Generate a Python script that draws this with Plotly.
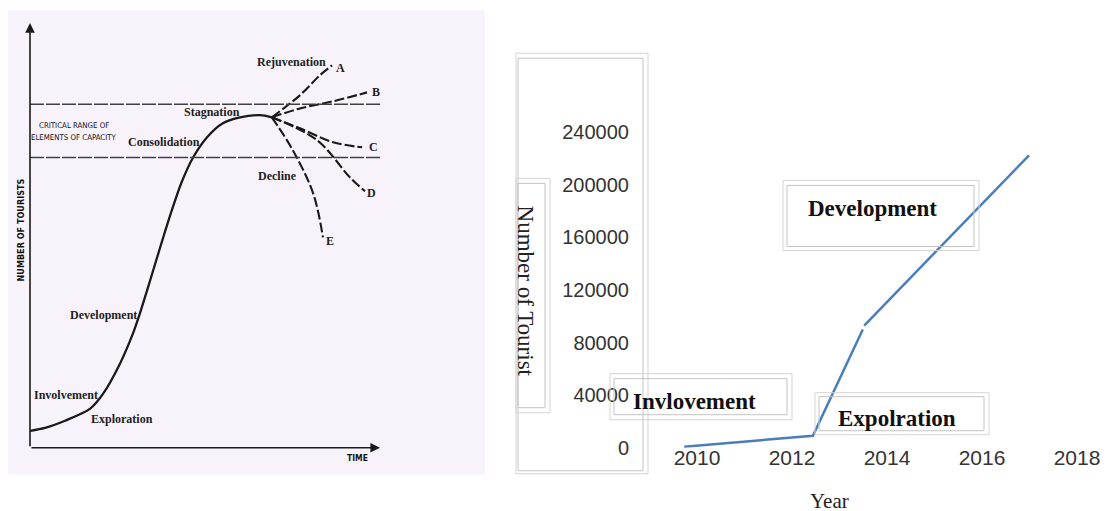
import plotly.graph_objects as go

# The page keeps the browser's default 8px body margin; the photographed page is
# squeezed vertically by 511/523, so reference pixels are mapped accordingly.
REF_W, REF_H = 1111, 511
OX, OY = 8, 8
SY = 523 / 511
FW = REF_W - 2 * OX
FH = 523 - 2 * OY

# ---------------- Left panel data (Butler life-cycle sketch, arbitrary units 0-100) ----------------
time_main = [0, 4.3, 10.0, 17.1, 20.9, 25.7, 29.4, 31.4, 33.7, 36.3, 38.0, 40.6, 43.4, 46.6, 50.6, 55.1, 60.0, 65.7, 69.1]
tourists_main = [4.0, 4.7, 6.4, 9.2, 12.8, 19.9, 27.0, 31.8, 37.9, 45.0, 49.6, 56.4, 63.0, 68.7, 73.5, 76.8, 78.2, 78.7, 78.2]

branch_A_t = [69.1, 77.1, 82.9, 86.3]
branch_A_n = [78.2, 83.4, 88.2, 90.5]
branch_B_t = [69.1, 77.1, 86.6, 96.3]
branch_B_n = [78.2, 80.3, 82.0, 84.1]
branch_C_t = [69.1, 77.1, 86.6, 94.9]
branch_C_n = [78.2, 75.6, 72.3, 71.1]
branch_D_t = [69.1, 82.0, 91.4, 95.7]
branch_D_n = [78.2, 72.8, 64.0, 60.7]
branch_E_t = [69.1, 75.1, 80.9, 83.7]
branch_E_n = [78.2, 70.4, 60.2, 49.8]

capacity_low = 68.7
capacity_high = 81.3
capacity_t = [0, 100.6]

# ---------------- Right panel data ----------------
years_seg1 = [2009.73, 2012.44, 2013.49]
tourists_seg1 = [800, 9100, 90000]
years_seg2 = [2013.52, 2016.99]
tourists_seg2 = [93000, 222500]
y_ticks = [0, 40000, 80000, 120000, 160000, 200000, 240000]
x_ticks = [2010, 2012, 2014, 2016, 2018]


def px(x):
    return (x - OX) / FW


def py(y):
    return 1 - (y * SY - OY) / FH


fig = go.Figure()

ink = "#1a1a1a"

# main curve
fig.add_trace(go.Scatter(x=time_main, y=tourists_main, mode="lines",
                         line=dict(color=ink, width=2.3, shape="spline", smoothing=0.8),
                         xaxis="x", yaxis="y", hoverinfo="skip", showlegend=False))
for bt, bn in [(branch_A_t, branch_A_n), (branch_B_t, branch_B_n), (branch_C_t, branch_C_n),
               (branch_D_t, branch_D_n), (branch_E_t, branch_E_n)]:
    fig.add_trace(go.Scatter(x=bt, y=bn, mode="lines",
                             line=dict(color=ink, width=2.1, shape="spline", dash="10px,3px"),
                             xaxis="x", yaxis="y", hoverinfo="skip", showlegend=False))
for level in (capacity_low, capacity_high):
    fig.add_trace(go.Scatter(x=capacity_t, y=[level, level], mode="lines",
                             line=dict(color="#404040", width=1.5, dash="14px,2px"),
                             xaxis="x", yaxis="y", hoverinfo="skip", showlegend=False))

# right line
fig.add_trace(go.Scatter(x=years_seg1, y=tourists_seg1, mode="lines",
                         line=dict(color="#4a7ebb", width=2.5),
                         xaxis="x2", yaxis="y2", hoverinfo="skip", showlegend=False))
fig.add_trace(go.Scatter(x=years_seg2, y=tourists_seg2, mode="lines",
                         line=dict(color="#4a7ebb", width=2.5),
                         xaxis="x2", yaxis="y2", hoverinfo="skip", showlegend=False))

shapes = []
# left background
shapes.append(dict(type="rect", xref="paper", yref="paper", x0=px(7), x1=px(485), y0=py(474), y1=py(10),
                   fillcolor="#f8f2fb", line=dict(width=0), layer="below"))


def double_box(x0, y0, x1, y1, ix0, iy0, ix1, iy1):
    shapes.append(dict(type="rect", xref="paper", yref="paper", x0=px(x0), x1=px(x1), y0=py(y1), y1=py(y0),
                       line=dict(color="#d4d4d4", width=1)))
    shapes.append(dict(type="rect", xref="paper", yref="paper", x0=px(ix0), x1=px(ix1), y0=py(iy1), y1=py(iy0),
                       line=dict(color="#c4c4c4", width=1)))


double_box(516, 53, 648, 473, 518, 58, 643, 470)      # y-axis frame
double_box(516, 178, 550, 412, 518, 183, 545, 407)    # axis title frame
double_box(610, 373, 792, 419, 614, 378, 787, 414)    # Invlovement
double_box(815, 392, 989, 434, 819, 396, 984, 430)    # Expolration
double_box(783, 180, 979, 250, 787, 185, 974, 246)    # Development

annotations = []
# left axes arrows
annotations.append(dict(x=0, y=100.5, ax=0, ay=0, xref="x", yref="y", axref="x", ayref="y", text="",
                        showarrow=True, arrowhead=2, arrowsize=1.2, arrowwidth=1.6, arrowcolor=ink))
annotations.append(dict(x=100, y=0, ax=0, ay=0, xref="x", yref="y", axref="x", ayref="y", text="",
                        showarrow=True, arrowhead=2, arrowsize=1.2, arrowwidth=1.6, arrowcolor=ink))

serif_b = dict(family="Liberation Serif", size=12, color="#1e1e1e")


def lab(text, x, y, font=serif_b, angle=0):
    annotations.append(dict(x=x, y=y, xref="x", yref="y", text=text, showarrow=False,
                            font=font, textangle=angle, xanchor="center", yanchor="middle"))


def ptext(text, x, y, font, angle=0):
    annotations.append(dict(x=px(x), y=py(y), xref="paper", yref="paper", text=text, showarrow=False,
                            font=font, textangle=angle, xanchor="center", yanchor="middle"))


lab("<b>Rejuvenation</b>", 74.6, 91.2)
lab("<b>A</b>", 88.6, 89.8)
lab("<b>B</b>", 98.9, 84.1)
lab("<b>Stagnation</b>", 52.0, 79.4)
lab("<b>C</b>", 98.0, 71.1)
lab("<b>D</b>", 97.7, 60.2)
lab("<b>E</b>", 85.7, 49.0)
lab("<b>Decline</b>", 70.6, 64.4)
lab("<b>Consolidation</b>", 38.3, 72.3)
lab("<b>Development</b>", 20.9, 31.3)
lab("<b>Involvement</b>", 10.3, 12.6)
lab("<b>Exploration</b>", 26.3, 6.9)
narrow = "Liberation Sans Narrow, DejaVu Sans Condensed, Liberation Sans"
small = dict(family=narrow, size=7.8, color="#111111")
lab("CRITICAL RANGE OF", 12.6, 76.3, small)
lab("ELEMENTS OF CAPACITY", 12.6, 73.4, small)
ptext("<b>NUMBER OF TOURISTS</b>", 21, 230, dict(family=narrow, size=9, color="#111111"), -90)
ptext("<b>TIME</b>", 357, 457, dict(family=narrow, size=8.5, color="#111111"))

# right panel texts
bold_serif = dict(family="Liberation Serif", size=23, color="#111111")
ptext("<b>Invlovement</b>", 694, 401, bold_serif)
ptext("<b>Expolration</b>", 897, 418, bold_serif)
ptext("<b>Development</b>", 872, 208, bold_serif)
ptext("Year", 829, 500, dict(family="Liberation Serif", size=21, color="#222222"))
ptext("Number of Tourist", 525, 290, dict(family="Liberation Serif", size=23, color="#222222"), 90)

hidden = dict(visible=False, showgrid=False, zeroline=False, fixedrange=True)

fig.update_layout(
    width=FW, height=FH,
    margin=dict(l=0, r=0, t=0, b=0),
    paper_bgcolor="white", plot_bgcolor="rgba(0,0,0,0)",
    showlegend=False,
    shapes=shapes,
    annotations=annotations,
    xaxis=dict(domain=[px(30), px(380)], range=[0, 100], anchor="y", **hidden),
    yaxis=dict(domain=[py(447), py(25)], range=[0, 100], anchor="x", **hidden),
    xaxis2=dict(domain=[px(660), px(1100)], range=[2009.221, 2018.484], anchor="y2",
                tickvals=x_ticks, ticktext=[str(v) for v in x_ticks],
                showgrid=False, zeroline=False, showline=False, ticks="",
                ticklabeloverflow="allow", ticklabelstandoff=-5,
                tickfont=dict(family="Liberation Sans", size=21, color="#333333")),
    yaxis2=dict(domain=[py(447), py(79.5)], range=[0, 280000], anchor="x2",
                tickvals=y_ticks, ticktext=[str(v) for v in y_ticks],
                showgrid=False, zeroline=False, showline=False, ticks="",
                ticklabelstandoff=30,
                tickfont=dict(family="Liberation Sans", size=20, color="#333333")),
)

fig.write_html("out.html", config={"displayModeBar": False})
